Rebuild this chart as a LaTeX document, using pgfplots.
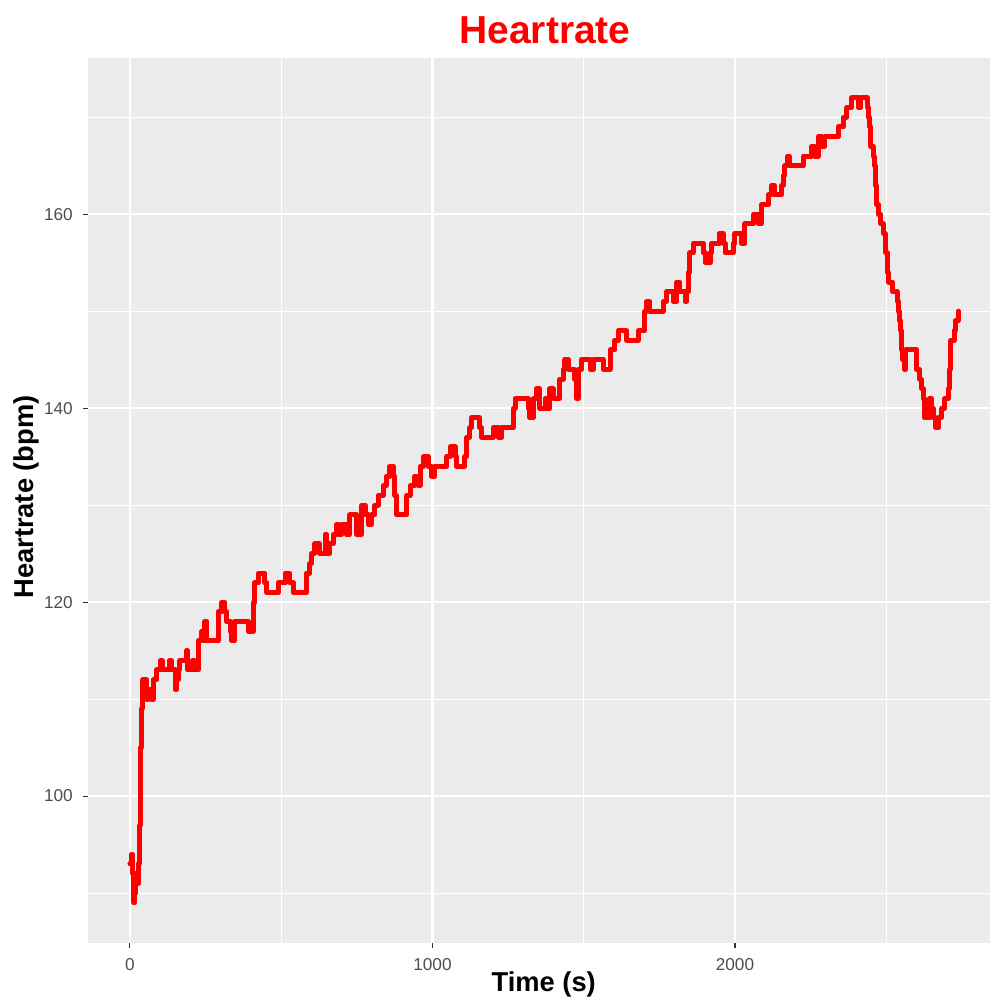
\documentclass[border=0pt]{standalone}
\usepackage{fontspec}
\setmainfont{Liberation Sans}
\usepackage{pgfplots}
\pgfplotsset{compat=1.18}
\definecolor{panelbg}{HTML}{EBEBEB}
\definecolor{gray30}{HTML}{4D4D4D}
\definecolor{gray20}{HTML}{333333}
\begin{document}
\begin{tikzpicture}
\useasboundingbox (-44.25pt,-31.15pt) rectangle (450.75pt,471.35pt);
\begin{axis}[
  at={(0,0)}, anchor=south west,
  scale only axis, width=450.75pt, height=442.5pt,
  xmin=-137, xmax=2843, ymin=84.88, ymax=176.14,
  axis background/.style={fill=panelbg},
  axis line style={draw=none},
  xtick={0,1000,2000}, ytick={100,120,140,160},
  minor xtick={500,1500,2500}, minor ytick={90,110,130,150,170},
  grid=both,
  major grid style={white, line width=1.05pt},
  minor grid style={white, line width=0.53pt},
  tick align=outside, xtick pos=bottom, ytick pos=left,
  major tick length=2.7pt, minor tick length=0pt,
  tick style={gray20, line width=0.55pt},
  /pgf/number format/assume math mode=true,
  /pgf/number format/1000 sep={},
  ticklabel style={font=\fontsize{8.6}{10}\selectfont, text=gray30},
  xticklabel style={anchor=base, yshift=-11.15pt},
  yticklabel style={anchor=east, inner sep=0pt, xshift=-5pt},
  title={Heartrate},
  title style={at={(axis description cs:0.5064,1.01627)}, anchor=base, yshift=-6pt, font=\fontsize{19.5}{23}\selectfont\bfseries, text=red},
  xlabel={Time (s)},
  xlabel style={at={(axis description cs:0.505,-0.05537)}, anchor=base, font=\fontsize{13.65}{16}\selectfont\bfseries},
  ylabel={Heartrate (bpm)},
  ylabel style={at={(axis description cs:-0.0612,0.5036)}, anchor=base, font=\fontsize{13.65}{16}\selectfont\bfseries},
]
\addplot[const plot, color=red, line width=2.5pt, line join=round, line cap=round] coordinates {
(0,93)(4,94)(8,92)(12,89)(16,90)(20,92)(24,91)(28,93)(30,95)(32,97)(34,101)(36,105)(38,109)(40,111)(43,112)(47,111)(51,112)(55,110)(60,111)(66,111)(71,110)(77,112)(83,112)(88,113)(99,113)(102,114)(106,113)(128,113)(132,114)(136,113)(145,113)(149,111)(155,112)(160,113)(165,114)(176,114)(187,115)(190,113)(203,113)(207,114)(212,113)(220,113)(226,116)(237,117)(243,116)(248,118)(254,116)(270,116)(281,116)(292,119)(303,120)(314,119)(319,118)(331,117)(336,116)(347,118)(386,118)(391,117)(402,117)(408,120)(413,122)(419,122)(425,123)(435,123)(441,123)(446,122)(452,121)(485,121)(490,122)(507,122)(513,123)(520,123)(529,122)(540,121)(578,121)(584,123)(595,124)(600,125)(611,126)(620,126)(628,125)(645,127)(650,125)(661,126)(672,127)(683,128)(690,127)(700,128)(716,127)(727,129)(738,129)(749,127)(766,130)(777,129)(788,128)(799,129)(810,130)(821,131)(837,132)(848,133)(859,134)(868,134)(872,133)(876,131)(881,129)(904,129)(915,131)(926,132)(942,133)(953,132)(959,134)(970,135)(981,135)(986,134)(997,133)(1008,134)(1041,134)(1047,135)(1058,136)(1069,136)(1075,135)(1080,134)(1102,134)(1107,135)(1113,137)(1124,138)(1129,139)(1151,139)(1156,138)(1162,137)(1190,137)(1201,138)(1217,137)(1229,138)(1262,138)(1267,140)(1273,141)(1306,141)(1317,140)(1322,139)(1333,141)(1344,142)(1355,140)(1372,141)(1377,140)(1388,142)(1399,141)(1410,141)(1421,143)(1432,144)(1438,145)(1449,144)(1466,144)(1471,143)(1477,141)(1482,144)(1493,145)(1521,144)(1532,145)(1559,145)(1565,144)(1576,144)(1587,146)(1603,147)(1614,148)(1636,148)(1642,147)(1675,147)(1680,148)(1697,148)(1702,150)(1708,151)(1719,150)(1752,150)(1763,151)(1774,152)(1785,152)(1796,151)(1807,153)(1818,152)(1835,151)(1840,152)(1846,154)(1849,155)(1851,156)(1862,157)(1890,157)(1895,156)(1901,155)(1912,155)(1918,156)(1923,157)(1939,157)(1948,158)(1961,157)(1967,156)(1989,156)(1994,157)(2000,158)(2016,158)(2022,157)(2033,159)(2055,159)(2061,160)(2072,160)(2077,159)(2088,161)(2105,161)(2110,162)(2121,163)(2129,162)(2149,162)(2154,163)(2160,164)(2165,165)(2173,166)(2180,165)(2220,165)(2226,166)(2248,166)(2254,167)(2264,166)(2275,168)(2286,167)(2297,168)(2336,168)(2341,169)(2352,169)(2358,170)(2369,171)(2380,171)(2386,172)(2400,172)(2408,171)(2416,172)(2433,172)(2438,171)(2441,170)(2444,169)(2447,168)(2449,167)(2457,166)(2460,165)(2463,164)(2465,163)(2467,162)(2468,161)(2474,160)(2482,159)(2490,158)(2496,157)(2499,156)(2503,155)(2505,154)(2507,153)(2515,153)(2521,152)(2532,152)(2537,151)(2540,150)(2543,149)(2546,148)(2549,147)(2551,146)(2554,145)(2560,144)(2565,146)(2595,146)(2601,144)(2611,143)(2617,142)(2622,141)(2625,140)(2628,139)(2639,139)(2644,141)(2650,140)(2655,139)(2664,138)(2672,139)(2680,139)(2683,140)(2688,140)(2694,141)(2703,141)(2706,142)(2708,143)(2710,144)(2711,145)(2712,146)(2714,147)(2719,147)(2724,148)(2729,149)(2735,149)(2738,150)
};
\end{axis}
\end{tikzpicture}
\end{document}
